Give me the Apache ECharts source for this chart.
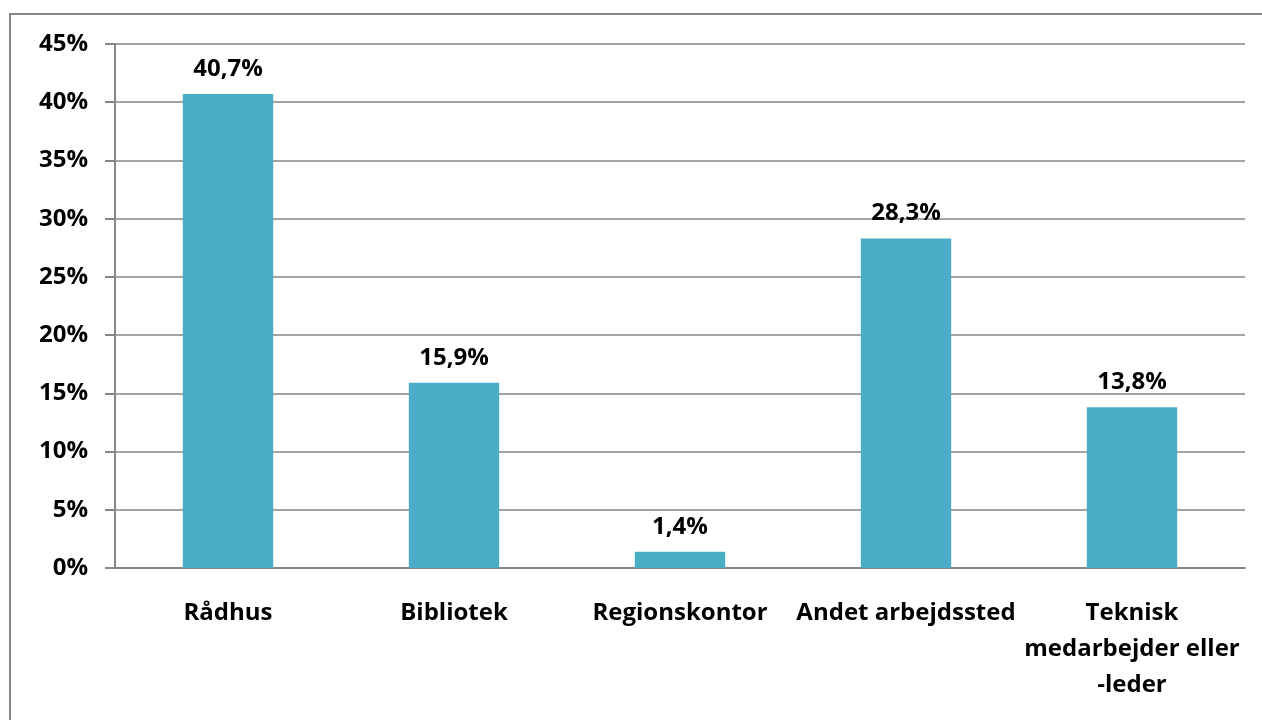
<!DOCTYPE html>
<html>
<head>
<meta charset="utf-8">
<script src="https://cdn.jsdelivr.net/npm/echarts@6/dist/echarts.min.js"></script>
<style>
  html, body { margin: 0; padding: 0; background: #fff; }
  #chart { width: 1262px; height: 720px; }
</style>
</head>
<body>
<div id="chart"></div>
<script>
// data
const categories = ['Rådhus', 'Bibliotek', 'Regionskontor', 'Andet arbejdssted', 'Teknisk\nmedarbejder eller\n-leder']
const values = [40.7, 15.9, 1.4, 28.3, 13.8]
const yTicks = [0, 5, 10, 15, 20, 25, 30, 35, 40, 45]

const fontFamily = '"Open Sans", "Noto Sans", sans-serif'
const chart = echarts.init(document.getElementById('chart'))

const option = {
  animation: false,
  graphic: [
    {
      type: 'rect',
      shape: { x: 10, y: 14, width: 1300, height: 760 },
      style: { fill: 'none', stroke: '#868686', lineWidth: 2 },
      silent: true
    }
  ],
  grid: {
    left: 115,
    right: 17,
    top: 44,
    bottom: 152
  },
  xAxis: {
    type: 'category',
    data: categories,
    axisLine: { lineStyle: { color: '#868686', width: 2 } },
    axisTick: { show: false },
    axisLabel: {
      interval: 0,
      margin: 27,
      color: '#000',
      fontFamily: fontFamily,
      fontWeight: 'bold',
      fontSize: 24,
      lineHeight: 36
    }
  },
  yAxis: {
    type: 'value',
    min: yTicks[0],
    max: yTicks[yTicks.length - 1],
    interval: 5,
    axisLine: { show: true, lineStyle: { color: '#868686', width: 2 } },
    axisTick: { show: true, length: 10, lineStyle: { color: '#868686', width: 2 } },
    axisLabel: {
      margin: 27,
      color: '#000',
      fontFamily: fontFamily,
      fontWeight: 'bold',
      fontSize: 24,
      formatter: v => v + '%'
    },
    splitLine: { lineStyle: { color: '#868686', width: 1.5 } }
  },
  series: [
    {
      type: 'bar',
      data: values,
      barWidth: '40%',
      itemStyle: { color: '#4BACC6' },
      label: {
        show: true,
        position: 'top',
        distance: 13,
        color: '#000',
        fontFamily: fontFamily,
        fontWeight: 'bold',
        fontSize: 24,
        formatter: p => p.value.toFixed(1).replace('.', ',') + '%'
      }
    }
  ]
}

chart.setOption(option)
</script>
</body>
</html>
